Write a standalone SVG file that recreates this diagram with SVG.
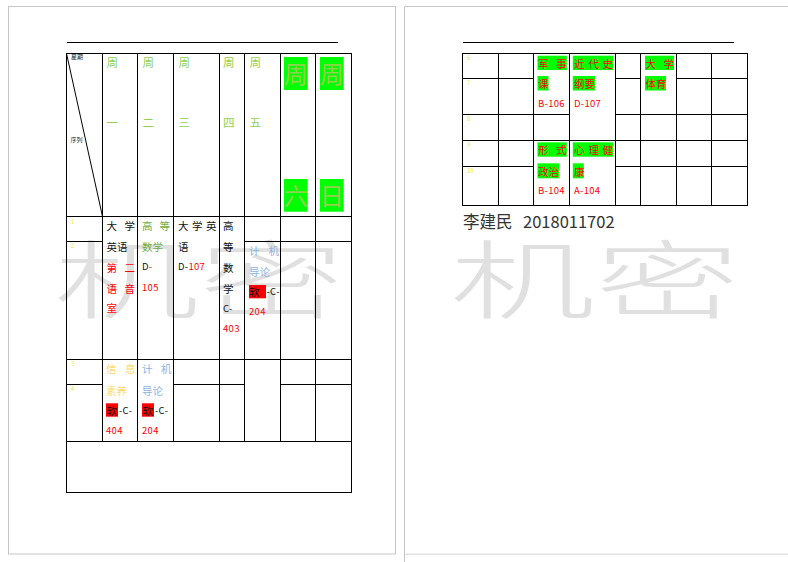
<svg xmlns="http://www.w3.org/2000/svg" width="788" height="562" viewBox="0 0 788 562">
<style>
.pg{fill:#fff;stroke:#c6c6c6;stroke-width:1}
.wm{font-family:"Noto Sans CJK SC",sans-serif;font-size:85px;font-weight:300;fill:#e0e0e0}
.g{stroke:#000;stroke-width:1;fill:none}
.c{font-family:"Noto Sans CJK SC",sans-serif;font-size:10.5px}
.l{font-family:"Noto Sans CJK SC",sans-serif;font-size:9.5px;letter-spacing:0.3px}
.hd{font-family:"Noto Sans CJK SC",sans-serif;font-size:11.5px;fill:#92D050}
.big{font-family:"Noto Sans CJK SC",sans-serif;font-size:24px;fill:#92D050;text-anchor:middle}
.n{font-family:"Noto Sans CJK SC",sans-serif;font-size:6px;fill:#eee65a}
.tiny{font-family:"Noto Sans CJK SC",sans-serif;font-size:6px;fill:#222}
.k{fill:#111}
.r{fill:#ff0000}
.gr{fill:#70AD47}
.bl{fill:#8DB3E2}
.ye{fill:#FFD966}
.hl{fill:#00ff00}
.rb{fill:#ff0000}
</style>
<rect width="788" height="562" fill="#fff"/>
<!-- pages -->
<rect class="pg" x="8.5" y="6.5" width="387" height="547.5"/>
<path d="M404.5 800 V6.5 H800 M404.5 554 H800" fill="none" stroke="#c6c6c6"/>
<rect x="405" y="7" width="383" height="546.5" fill="#fff"/>
<!-- watermarks -->
<g id="watermark-left"><text class="wm" x="54" y="312" textLength="290" lengthAdjust="spacingAndGlyphs">机密</text></g>
<g id="watermark-right"><text class="wm" x="450" y="312" textLength="290" lengthAdjust="spacingAndGlyphs">机密</text></g>

<!-- LEFT PAGE -->
<g id="header-rule-left"><line class="g" x1="67" y1="42.5" x2="338" y2="42.5"/></g>
<g id="table-left-grid" class="g">
<rect x="66.5" y="53.5" width="285" height="439"/>
<path d="M102.5 53.5V441.5M137.5 53.5V441.5M173.5 53.5V441.5M219.5 53.5V441.5M244.5 53.5V441.5M280.5 53.5V441.5M315.5 53.5V441.5"/>
<path d="M66.5 216.5H351.5M66.5 241.5H102.5M244.5 241.5H351.5M66.5 359.5H351.5M66.5 384.5H102.5M173.5 384.5H244.5M280.5 384.5H351.5M66.5 441.5H351.5"/>
<line x1="66.5" y1="53.5" x2="102.5" y2="216.5"/>
</g>
<g id="corner-cell">
<text class="tiny" x="71" y="59">星期</text>
<text class="tiny" x="70.5" y="141.5">序列</text>
</g>
<g id="head-mon"><text class="hd" x="106.5" y="67">周</text><text class="hd" x="106.5" y="127">一</text></g>
<g id="head-tue"><text class="hd" x="142.5" y="67">周</text><text class="hd" x="142.5" y="127">二</text></g>
<g id="head-wed"><text class="hd" x="178.5" y="67">周</text><text class="hd" x="178.5" y="127">三</text></g>
<g id="head-thu"><text class="hd" x="223" y="67">周</text><text class="hd" x="223" y="127">四</text></g>
<g id="head-fri"><text class="hd" x="249.5" y="67">周</text><text class="hd" x="249.5" y="127">五</text></g>
<g id="head-sat">
<rect class="hl" x="284" y="57" width="23.7" height="33"/><text class="big" x="295.8" y="82.5">周</text>
<rect class="hl" x="284" y="179" width="23.7" height="32.7"/><text class="big" x="295.8" y="204.5">六</text>
</g>
<g id="head-sun">
<rect class="hl" x="320" y="57" width="23.7" height="33"/><text class="big" x="331.8" y="82.5">周</text>
<rect class="hl" x="320" y="179" width="23.7" height="32.7"/><text class="big" x="331.8" y="204.5">日</text>
</g>
<g id="row-labels-left">
<text class="n" x="71" y="224">1</text>
<text class="n" x="71" y="248">2</text>
<text class="n" x="71" y="366">3</text>
<text class="n" x="71" y="391">4</text>
</g>
<g id="mon-12">
<text class="c k" x="106.5 124.5" y="230">大学</text>
<text class="c k" x="106.5" y="251">英语</text>
<text class="c r" x="106.5 124.5" y="271.5">第二</text>
<text class="c r" x="106.5 124.5" y="292.5">语音</text>
<text class="c r" x="106.5" y="312">室</text>
</g>
<g id="tue-12">
<text class="c gr" x="142 159.5" y="230">高等</text>
<text class="c gr" x="142" y="251">数学</text>
<text class="l" x="142" y="270"><tspan class="k">D</tspan><tspan class="r">-</tspan></text>
<text class="l r" x="142" y="290.5">105</text>
</g>
<g id="wed-12">
<text class="c k" x="178 192 206" y="230">大学英</text>
<text class="c k" x="178" y="251">语</text>
<text class="l" x="178" y="270"><tspan class="k">D-</tspan><tspan class="r">107</tspan></text>
</g>
<g id="thu-12">
<text class="c k" x="223" y="230">高</text>
<text class="c k" x="223" y="251">等</text>
<text class="c k" x="223" y="271.5">数</text>
<text class="c k" x="223" y="292.5">学</text>
<text class="l k" x="223" y="311.5">C-</text>
<text class="l r" x="223" y="332">403</text>
</g>
<g id="fri-2">
<text class="c bl" x="249 268.5" y="254.5">计机</text>
<text class="c bl" x="249" y="275.5">导论</text>
<rect class="rb" x="249" y="285" width="17" height="13.3"/>
<text class="c k" x="249" y="295.5">软</text>
<text class="l k" x="266.5" y="295">-C-</text>
<text class="l r" x="249" y="315">204</text>
</g>
<g id="mon-34">
<text class="c ye" x="106 125" y="373">信息</text>
<text class="c ye" x="106" y="394.5">素养</text>
<rect class="rb" x="106" y="403.3" width="12" height="13.4"/>
<text class="c k" x="106.5" y="414.5">软</text>
<text class="l k" x="119" y="414">-C-</text>
<text class="l r" x="106" y="433.5">404</text>
</g>
<g id="tue-34">
<text class="c bl" x="142 161" y="373">计机</text>
<text class="c bl" x="142" y="394.5">导论</text>
<rect class="rb" x="142" y="403.3" width="12" height="13.4"/>
<text class="c k" x="142.5" y="414.5">软</text>
<text class="l k" x="155" y="414">-C-</text>
<text class="l r" x="142" y="433.5">204</text>
</g>

<!-- RIGHT PAGE -->
<g id="header-rule-right"><line class="g" x1="463" y1="42.5" x2="734" y2="42.5"/></g>
<g id="table-right-grid" class="g">
<rect x="462.5" y="53.5" width="285" height="152"/>
<path d="M498.5 53.5V205.5M533.5 53.5V205.5M569.5 53.5V205.5M615.5 53.5V205.5M640.5 53.5V205.5M676.5 53.5V205.5M711.5 53.5V205.5"/>
<path d="M462.5 78.5H533.5M615.5 78.5H640.5M676.5 78.5H747.5M462.5 114.5H569.5M615.5 114.5H747.5M462.5 140.5H747.5M462.5 166.5H533.5M615.5 166.5H747.5"/>
</g>
<g id="row-labels-right">
<text class="n" x="467" y="60">6</text>
<text class="n" x="467" y="85">7</text>
<text class="n" x="467" y="121">8</text>
<text class="n" x="467" y="147">9</text>
<text class="n" x="467" y="173">10</text>
</g>
<g id="junshi">
<rect class="hl" x="537.5" y="55.7" width="29.3" height="14.3"/>
<text class="c r" x="538 556" y="67.5">军事</text>
<rect class="hl" x="537.5" y="76" width="11" height="14.5"/>
<text class="c r" x="538" y="88">课</text>
<text class="l r" x="538" y="107">B-106</text>
</g>
<g id="jindaishi">
<rect class="hl" x="572.8" y="55.7" width="40.5" height="14.3"/>
<text class="c r" x="574 588.5 602.5" y="67.5">近代史</text>
<rect class="hl" x="572.8" y="76" width="22.2" height="14.5"/>
<text class="c r" x="574" y="88">纲要</text>
<text class="l r" x="574" y="107">D-107</text>
</g>
<g id="tiyu">
<rect class="hl" x="645" y="55.7" width="29" height="14.3"/>
<text class="c r" x="645.5 663.5" y="67.5">大学</text>
<rect class="hl" x="645" y="76" width="21" height="14.5"/>
<text class="c r" x="645.5" y="88">体育</text>
</g>
<g id="xingshi">
<rect class="hl" x="537.5" y="142.3" width="29.3" height="14.4"/>
<text class="c r" x="538 556" y="154.3">形式</text>
<rect class="hl" x="537.5" y="163.3" width="21.8" height="15"/>
<text class="c r" x="538" y="175.5">政治</text>
<text class="l r" x="538" y="194.3">B-104</text>
</g>
<g id="xinli">
<rect class="hl" x="572.8" y="142.3" width="40.5" height="14.4"/>
<text class="c r" x="574 588.5 602.5" y="154.3">心理健</text>
<rect class="hl" x="572.8" y="163.3" width="11" height="15"/>
<text class="c r" x="574" y="175.5">康</text>
<text class="l r" x="574" y="194.3">A-104</text>
</g>
<g id="author">
<text x="463" y="227.5" style="font-family:'Noto Sans CJK SC',sans-serif;font-size:16.5px;fill:#333">李建民<tspan x="523">2018011702</tspan></text>
</g>
</svg>
